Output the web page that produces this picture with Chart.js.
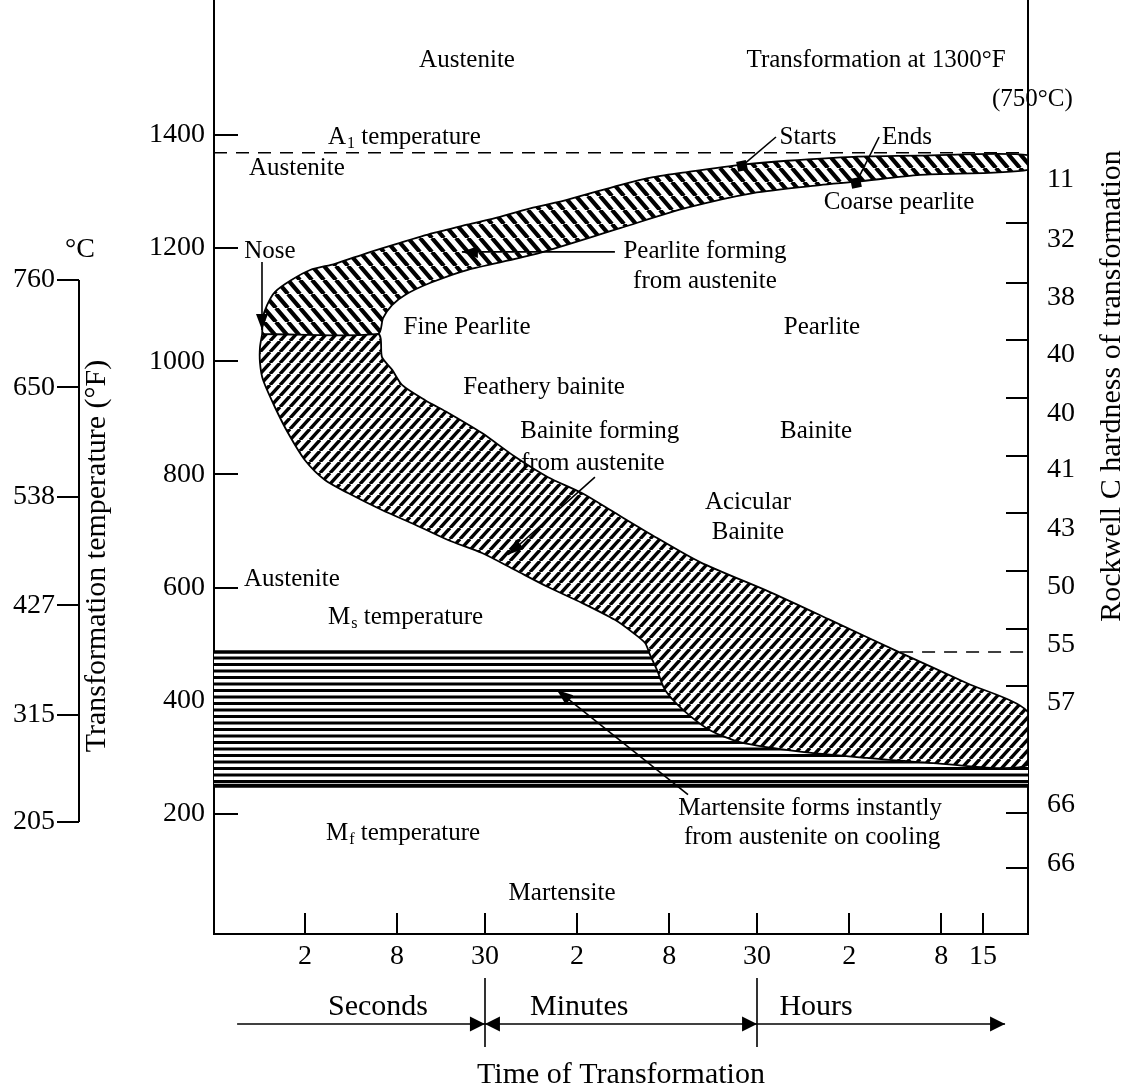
<!DOCTYPE html>
<html>
<head>
<meta charset="utf-8">
<script src="https://cdn.jsdelivr.net/npm/chart.js@4/dist/chart.umd.min.js"></script>
<style>
html,body{margin:0;padding:0;background:#fff;}
#wrap{width:1129px;height:1091px;position:relative;}
canvas{display:block;}
</style>
</head>
<body>
<div id="wrap"><canvas id="c" width="1129" height="1091"></canvas></div>
<script>
// ---------------- DATA ----------------
// Time axis (seconds, log scale)
const timeMin = 0.5085, timeMax = 106200;
const xTickValues = [2, 8, 30, 120, 480, 1800, 7200, 28800, 54000];
const xTickLabels = ['2', '8', '30', '2', '8', '30', '2', '8', '15'];
// Temperature axis (°F)
const tempMinF = -12, tempMaxF = 1638;
const yTickValuesF = [200, 400, 600, 800, 1000, 1200, 1400];
// Celsius companion axis
const celsiusMin = 90.3, celsiusMax = 1046.7;
const celsiusTicks = [760, 650, 538, 427, 315, 205];
// Rockwell C hardness (right axis)
const hardnessLabels = ['11', '32', '38', '40', '40', '41', '43', '50', '55', '57', '66', '66'];
const hardnessLabelTemps = [1320, 1214, 1113, 1011, 908, 808, 704, 601, 499, 396, 216, 113];
const hardnessTickTemps = [1244, 1138, 1038, 935, 832, 732, 629, 527, 426, 202, 105];

// Characteristic temperatures (°F)
const a1Temp = 1368;
const msTemp = 486;
const mfTemp = 250;
const msCrossTime = 354;     // where bainite start curve meets Ms
const msDashStart = 15490;   // Ms line re-appears right of bainite end curve

// Pearlite band: start curve (nose -> long times) [seconds, °F]
const pearliteStart = [[1.05,1048],[1.06,1076],[1.13,1099],[1.27,1122],[1.6,1142],[2.16,1161],[3.14,1172],[5.08,1191],[8.36,1209],[13.7,1226],[22.9,1241],[37.6,1255],[61.8,1271],[103,1285],[229,1311],[377,1325],[628,1334],[1436,1347],[2828,1354],[7640,1361],[20900,1363],[106200,1364]];
// Pearlite band: end curve (long times -> nose)
const pearliteEnd = [[106200,1338],[20900,1329],[8110,1317],[4645,1311],[1694,1297],[628,1271],[229,1235],[61.8,1188],[22.9,1161],[13.1,1138],[9.01,1117],[7.41,1099],[6.47,1076],[6.0,1048]];
// Bainite band: start curve (nose -> long times)
const bainiteStart = [[1.05,1048],[1.016,1025],[1.016,997],[1.063,967],[1.27,919],[1.55,873],[2.0,825],[2.70,790],[3.82,767],[6.37,737],[10.5,711],[17.2,684],[28.7,661],[47.2,631],[77.5,601],[129,573],[212,543],[279,520],[334,502],[360,481],[400,454],[451,419],[591,384],[887,348],[1394,327],[3438,310],[9420,299],[25450,290],[106200,287]];
// Bainite band: end curve (nose -> long times)
const bainiteEnd = [[6.0,1048],[6.37,1007],[7.41,985],[8.61,958],[12.2,931],[17.2,909],[28.7,873],[47.2,831],[77.5,795],[129,767],[212,732],[349,697],[763,645],[2188,592],[5400,543],[15490,485],[42450,431],[106200,380]];
// "Starts" / "Ends" markers at 1300°F
const markerPoints = [[1436,1345],[7980,1315]];

// Labels inside the plot: [text, seconds, °F, align]
const regionLabels = [
  ['Austenite', 22.9, 1532, 'center'],
  ['Transformation at 1300°F', 10790, 1532, 'center'],
  ['(750°C)', 61800, 1463, 'left'],
  ['Austenite', 1.77, 1340, 'center'],
  ['Starts', 3873, 1396, 'center'],
  ['Ends', 17200, 1396, 'center'],
  ['Coarse pearlite', 15230, 1280, 'center'],
  ['Nose', 1.18, 1193, 'center'],
  ['Pearlite forming', 822, 1193, 'center'],
  ['from austenite', 822, 1140, 'center'],
  ['Fine Pearlite', 22.9, 1060, 'center'],
  ['Pearlite', 4786, 1060, 'center'],
  ['Feathery bainite', 73, 953, 'center'],
  ['Bainite forming', 169, 875, 'center'],
  ['from austenite', 152, 820, 'center'],
  ['Bainite', 4375, 875, 'center'],
  ['Acicular', 1570, 750, 'center'],
  ['Bainite', 1570, 697, 'center'],
  ['Austenite', 1.64, 615, 'center'],
  ['Martensite forms instantly', 4000, 210, 'center'],
  ['from austenite on cooling', 4120, 158, 'center'],
  ['Martensite', 95.7, 60, 'center']
];
// Subscripted labels: [main, subscript, rest, seconds, °F]
const subscriptLabels = [
  ['A', '1', ' temperature', 2.83, 1396],
  ['M', 's', ' temperature', 2.83, 548],
  ['M', 'f', ' temperature', 2.74, 166]
];
// Arrows [fromSec, fromF, toSec, toF]
const arrows = [
  [1.047, 1175, 1.047, 1055],
  [212, 1193, 21.2, 1193],
  [157, 795, 42.5, 658],
  [637, 234, 88.7, 419]
];
// Leader lines (no head)
const leaders = [
  [2393, 1396, 1436, 1345],
  [11300, 1396, 7980, 1315]
];
// Time unit spans below the axis
const spanLabels = ['Seconds', 'Minutes', 'Hours'];
const spanBounds = [0.72, 30, 1800, 75200];
const spanLabelTimes = [6.0, 124, 4375];

// ---------------- DRAWING ----------------
const FONT = "'Liberation Serif', 'Times New Roman', serif";
Chart.defaults.font.family = FONT;
Chart.defaults.font.size = 28;
Chart.defaults.color = '#000';

const canvas = document.getElementById('c');
const ctx0 = canvas.getContext('2d');

function diagPattern(w, h, lw, forward) {
  const c = document.createElement('canvas');
  c.width = w; c.height = h;
  const g = c.getContext('2d');
  g.fillStyle = '#fff'; g.fillRect(0, 0, w, h);
  g.strokeStyle = '#000'; g.lineWidth = lw;
  g.beginPath();
  for (let k = -1; k <= 1; k++) {
    if (forward) { g.moveTo(k * w, h); g.lineTo(k * w + w, 0); }
    else { g.moveTo(k * w, 0); g.lineTo(k * w + w, h); }
  }
  g.stroke();
  return ctx0.createPattern(c, 'repeat');
}
function horizPattern() {
  const c = document.createElement('canvas');
  c.width = 4; c.height = 13;
  const g = c.getContext('2d');
  g.fillStyle = '#fff'; g.fillRect(0, 0, 4, 13);
  g.fillStyle = '#000';
  g.fillRect(0, 0, 4, 3);
  g.fillRect(0, 6.5, 4, 3);
  return ctx0.createPattern(c, 'repeat');
}
const backPat = diagPattern(12, 14, 4.2, false);
const fwdPat = diagPattern(10, 11, 3.4, true);
const horPat = horizPattern();

const P = arr => arr.map(([x, y]) => ({x, y}));
const pearliteBand = [...pearliteStart, ...pearliteEnd, pearliteStart[0]];
const bainiteBand = [bainiteStart[0], ...bainiteEnd, ...bainiteStart.slice().reverse()];
const martensiteRegion = [[timeMin, msTemp], [msCrossTime, msTemp], ...bainiteStart.filter(p => p[1] < msTemp), [timeMax, mfTemp], [timeMin, mfTemp]];

function arrowHead(ctx, x1, y1, x2, y2, len, half) {
  const a = Math.atan2(y2 - y1, x2 - x1);
  ctx.beginPath();
  ctx.moveTo(x2, y2);
  ctx.lineTo(x2 - len * Math.cos(a) + half * Math.sin(a), y2 - len * Math.sin(a) - half * Math.cos(a));
  ctx.lineTo(x2 - len * Math.cos(a) - half * Math.sin(a), y2 - len * Math.sin(a) + half * Math.cos(a));
  ctx.closePath();
  ctx.fill();
}

const decor = {
  id: 'decor',
  beforeDatasetsDraw(chart) {
    const {ctx, chartArea: a, scales: {x, y, yR}} = chart;
    ctx.save();
    ctx.strokeStyle = '#000'; ctx.lineWidth = 2;
    ctx.beginPath();
    for (const v of yTickValuesF) { const p = Math.round(y.getPixelForValue(v)); ctx.moveTo(a.left, p); ctx.lineTo(a.left + 24, p); }
    for (const v of xTickValues) { const p = Math.round(x.getPixelForValue(v)); ctx.moveTo(p, a.bottom); ctx.lineTo(p, a.bottom - 21); }
    for (const v of hardnessTickTemps) { const p = Math.round(yR.getPixelForValue(v)); ctx.moveTo(a.right, p); ctx.lineTo(a.right - 22, p); }
    ctx.stroke();
    ctx.restore();
  },
  afterDatasetsDraw(chart) {
    const {ctx, scales: {x, y}} = chart;
    const px = t => x.getPixelForValue(t), py = f => y.getPixelForValue(f);
    ctx.save();
    ctx.fillStyle = '#000'; ctx.strokeStyle = '#000';
    ctx.textBaseline = 'middle';
    ctx.font = '25px ' + FONT;
    for (const [text, t, f, align] of regionLabels) {
      ctx.textAlign = align;
      ctx.fillText(text, px(t), py(f));
    }
    for (const [m, s, rest, t, f] of subscriptLabels) {
      let xx = px(t); const yy = py(f);
      ctx.textAlign = 'left';
      ctx.font = '25px ' + FONT; ctx.fillText(m, xx, yy); xx += ctx.measureText(m).width;
      ctx.font = '16px ' + FONT; ctx.fillText(s, xx + 1, yy + 7); xx += ctx.measureText(s).width + 1;
      ctx.font = '25px ' + FONT; ctx.fillText(rest, xx, yy);
    }
    ctx.lineWidth = 1.6;
    for (const [t1, f1, t2, f2] of arrows) {
      const x1 = px(t1), y1 = py(f1), x2 = px(t2), y2 = py(f2);
      ctx.beginPath(); ctx.moveTo(x1, y1); ctx.lineTo(x2, y2); ctx.stroke();
      arrowHead(ctx, x1, y1, x2, y2, 16, 6);
    }
    for (const [t1, f1, t2, f2] of leaders) {
      ctx.beginPath(); ctx.moveTo(px(t1), py(f1)); ctx.lineTo(px(t2), py(f2)); ctx.stroke();
    }
    ctx.restore();
  },
  afterDraw(chart) {
    const {ctx, chartArea: a, scales: {x, yC}} = chart;
    ctx.save();
    ctx.fillStyle = '#000'; ctx.strokeStyle = '#000';
    // Celsius axis
    const cx = 79;
    const cTop = yC.getPixelForValue(celsiusTicks[0]);
    const cBot = yC.getPixelForValue(celsiusTicks[celsiusTicks.length - 1]);
    ctx.lineWidth = 2;
    ctx.beginPath();
    ctx.moveTo(cx, cTop); ctx.lineTo(cx, cBot);
    for (const v of celsiusTicks) { const p = Math.round(yC.getPixelForValue(v)); ctx.moveTo(cx - 22, p); ctx.lineTo(cx, p); }
    ctx.stroke();
    ctx.font = '28px ' + FONT;
    ctx.textBaseline = 'middle';
    ctx.textAlign = 'right';
    for (const v of celsiusTicks) ctx.fillText(String(v), cx - 24, yC.getPixelForValue(v));
    ctx.textAlign = 'center';
    ctx.fillText('°C', cx + 1, cTop - 30);
    // Axis titles (rotated)
    ctx.font = '30px ' + FONT;
    ctx.save(); ctx.translate(97, 556); ctx.rotate(-Math.PI / 2);
    ctx.fillText('Transformation temperature (°F)', 0, 0); ctx.restore();
    ctx.save(); ctx.translate(1112, 386); ctx.rotate(-Math.PI / 2);
    ctx.fillText('Rockwell C hardness of transformation', 0, 0); ctx.restore();
    // Time spans
    const arrowY = 1024, labelY = 1007;
    ctx.lineWidth = 1.6;
    for (let i = 0; i < spanLabels.length; i++) {
      const xa = x.getPixelForValue(spanBounds[i]), xb = x.getPixelForValue(spanBounds[i + 1]);
      ctx.beginPath(); ctx.moveTo(xa, arrowY); ctx.lineTo(xb, arrowY); ctx.stroke();
      arrowHead(ctx, xa, arrowY, xb, arrowY, 15, 7.5);
      if (i === 1) arrowHead(ctx, xb, arrowY, xa, arrowY, 15, 7.5);
      ctx.fillText(spanLabels[i], x.getPixelForValue(spanLabelTimes[i]), labelY);
    }
    ctx.beginPath();
    for (let i = 1; i < spanBounds.length - 1; i++) {
      const xd = Math.round(x.getPixelForValue(spanBounds[i]));
      ctx.moveTo(xd, 978); ctx.lineTo(xd, 1047);
    }
    ctx.stroke();
    ctx.restore();
  }
};

const lineBase = {xAxisID: 'x', yAxisID: 'y', pointRadius: 0, borderColor: '#000', fill: false};

new Chart(ctx0, {
  type: 'line',
  data: {
    datasets: [
      Object.assign({}, lineBase, {label: 'Martensite', data: P(martensiteRegion), fill: 'shape', backgroundColor: horPat, borderWidth: 0, tension: 0, order: 10}),
      Object.assign({}, lineBase, {label: 'A1 temperature', data: P([[timeMin, a1Temp], [timeMax, a1Temp]]), borderWidth: 1.5, borderDash: [13, 9], order: 9}),
      Object.assign({}, lineBase, {label: 'Ms (hidden part)', data: P([[msDashStart, msTemp], [timeMax, msTemp]]), borderWidth: 1.5, borderDash: [13, 9], order: 9}),
      Object.assign({}, lineBase, {label: 'Pearlite forming', data: P(pearliteBand), fill: 'shape', backgroundColor: backPat, borderWidth: 1.8, tension: 0.25, order: 5}),
      Object.assign({}, lineBase, {label: 'Bainite forming', data: P(bainiteBand), fill: 'shape', backgroundColor: fwdPat, borderWidth: 1.8, tension: 0.25, order: 5}),
      Object.assign({}, lineBase, {label: 'Ms temperature', data: P([[timeMin, msTemp], [msCrossTime, msTemp]]), borderWidth: 3.5, order: 2}),
      Object.assign({}, lineBase, {label: 'Mf temperature', data: P([[timeMin, mfTemp], [timeMax, mfTemp]]), borderWidth: 4, order: 2}),
      Object.assign({}, lineBase, {label: 'Starts/Ends', data: P(markerPoints), showLine: false, pointStyle: 'rect', pointRadius: 7, pointRotation: -12, pointBackgroundColor: '#000', pointBorderWidth: 0, order: 1})
    ]
  },
  options: {
    responsive: false,
    animation: false,
    events: [],
    devicePixelRatio: 1,
    layout: {padding: 0, autoPadding: false},
    plugins: {legend: {display: false}, tooltip: {enabled: false}, title: {display: false}},
    scales: {
      x: {
        type: 'logarithmic', position: 'bottom', min: timeMin, max: timeMax, bounds: 'data',
        afterBuildTicks: s => { s.ticks = xTickValues.map(v => ({value: v})); },
        ticks: {autoSkip: false, maxRotation: 0, minRotation: 0, padding: 6, color: '#000', font: {size: 28}, callback: (v, i) => xTickLabels[i]},
        grid: {display: false, drawTicks: false},
        border: {display: true, color: '#000', width: 2},
        title: {display: true, text: 'Time of Transformation', color: '#000', font: {size: 30, lineHeight: 1}, padding: {top: 0, bottom: 1}},
        afterFit: s => { s.height = 157; s.paddingLeft = 0; s.paddingRight = 0; }
      },
      y: {
        type: 'linear', position: 'left', min: tempMinF, max: tempMaxF, bounds: 'data',
        afterBuildTicks: s => { s.ticks = yTickValuesF.map(v => ({value: v})); },
        ticks: {autoSkip: false, padding: 9, color: '#000', font: {size: 28}, callback: v => String(v)},
        grid: {display: false, drawTicks: false},
        border: {display: true, color: '#000', width: 2},
        afterFit: s => { s.width = 214; s.paddingTop = 0; s.paddingBottom = 0; }
      },
      yR: {
        type: 'linear', position: 'right', min: tempMinF, max: tempMaxF, bounds: 'data',
        afterBuildTicks: s => { s.ticks = hardnessLabelTemps.map(v => ({value: v})); },
        ticks: {autoSkip: false, padding: 19, color: '#000', font: {size: 28}, callback: (v, i) => hardnessLabels[i]},
        grid: {display: false, drawTicks: false},
        border: {display: true, color: '#000', width: 2},
        afterFit: s => { s.width = 101; s.paddingTop = 0; s.paddingBottom = 0; }
      },
      yC: {type: 'linear', display: false, min: celsiusMin, max: celsiusMax, bounds: 'data'}
    }
  },
  plugins: [decor]
});
</script>
</body>
</html>
